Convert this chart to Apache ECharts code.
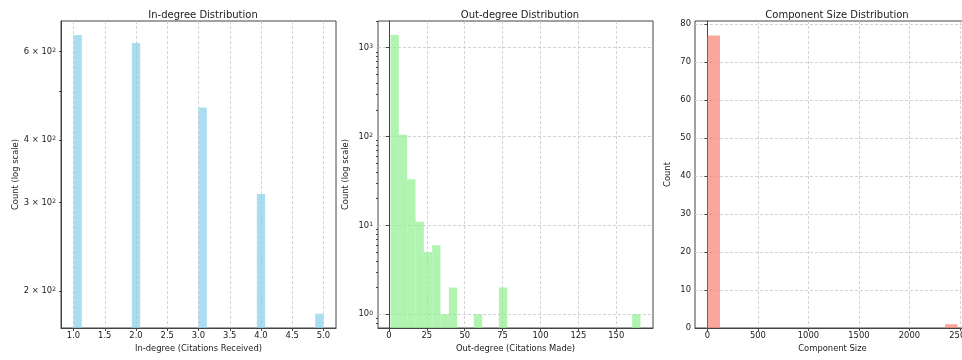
<!DOCTYPE html>
<html>
<head>
<meta charset="utf-8">
<script src="https://cdn.jsdelivr.net/npm/echarts@6/dist/echarts.min.js"></script>
<style>
  html, body { margin: 0; padding: 0; background: #fff; }
  #chart { width: 962px; height: 360px; }
</style>
</head>
<body>
<div id="chart"></div>
<script>
// In-degree histogram (30 bins over 1..5), only the non-empty bins
const inDegreeBinStart = [1.0, 1.933, 3.0, 3.933, 4.867]
const inDegreeBinEnd = [1.133, 2.067, 3.133, 4.067, 5.0]
const inDegreeCounts = [647, 624, 464, 312, 180]
const inDegreeTicks = [1.0, 1.5, 2.0, 2.5, 3.0, 3.5, 4.0, 4.5, 5.0]
const inDegreeCountTicks = [200, 300, 400, 500, 600]
const inDegreeCountLabels = [200, 300, 400, 600]

// Out-degree histogram (30 bins over 1..166), only the non-empty bins
const outDegreeBinStart = [1, 6.5, 12, 17.5, 23, 28.5, 34, 39.5, 56, 72.5, 160.5]
const outDegreeBinEnd = [6.5, 12, 17.5, 23, 28.5, 34, 39.5, 45, 61.5, 78, 166]
const outDegreeCounts = [1390, 105, 33, 11, 5, 6, 1, 2, 1, 2, 1]
const outDegreeTicks = [0, 25, 50, 75, 100, 125, 150]
const outDegreeCountTicks = [1, 10, 100, 1000]
const outDegreeMinorTicks = [0.8, 0.9, 2, 3, 4, 5, 6, 7, 8, 9, 20, 30, 40, 50, 60, 70, 80, 90,
  200, 300, 400, 500, 600, 700, 800, 900, 2000]

// Component size histogram (20 bins over 1..2476), only the non-empty bins
const componentBinStart = [1, 2352]
const componentBinEnd = [125, 2476]
const componentCounts = [77, 1]
const componentTicks = [0, 500, 1000, 1500, 2000, 2500]
const componentCountTicks = [0, 10, 20, 30, 40, 50, 60, 70, 80]

const font = 'DejaVu Sans'
const textColor = '#1a1a1a'
const frameColor = '#444'

const toRows = (starts, ends, counts) => starts.map((s, i) => [s, ends[i], counts[i]])

// histogram bars drawn from the axis bottom, like matplotlib on a log axis
const histBars = (yBase) => (params, api) => {
  const topLeft = api.coord([api.value(0), api.value(2)])
  const bottomRight = api.coord([api.value(1), yBase])
  return {
    type: 'rect',
    shape: {
      x: topLeft[0],
      y: topLeft[1],
      width: bottomRight[0] - topLeft[0],
      height: bottomRight[1] - topLeft[1]
    },
    style: api.style()
  }
}

const gridLine = { show: true, lineStyle: { color: '#c8c8c8', type: [3, 2], width: 0.8 } }
const labelStyle = { fontFamily: font, fontSize: 8.4, color: textColor }
const nameStyle = { fontFamily: font, fontSize: 8.4, color: textColor }
// base + superscript exponent, as in matplotlib's log labels
const supRich = {
  b: { fontFamily: font, fontSize: 8.4, color: textColor, verticalAlign: 'bottom' },
  s: { fontFamily: font, fontSize: 6, color: textColor, verticalAlign: 'top' }
}

const panels = [
  { left: 61, title: 'In-degree Distribution' },
  { left: 378, title: 'Out-degree Distribution' },
  { left: 695, title: 'Component Size Distribution' }
]

const inMin = 168.6, inMax = 690
const outMin = 0.7, outMax = 2000
const compMin = 0, compMax = 80.85

const chart = echarts.init(document.getElementById('chart'), null, { renderer: 'canvas' })

chart.setOption({
  animation: false,
  backgroundColor: '#fff',
  title: panels.map((p) => ({
    text: p.title,
    left: p.left + 137,
    top: 5,
    textAlign: 'center',
    textStyle: { fontFamily: font, fontSize: 10, fontWeight: 'normal', color: textColor }
  })),
  grid: panels.map((p) => ({
    left: p.left,
    top: 21,
    width: 275,
    height: 307,
    show: true,
    borderColor: frameColor,
    borderWidth: 1,
    backgroundColor: 'transparent',
    outerBoundsMode: 'none'
  })),
  xAxis: [
    {
      gridIndex: 0, type: 'value', min: 0.8, max: 5.2,
      name: 'In-degree (Citations Received)', nameLocation: 'middle', nameGap: 15,
      nameTextStyle: nameStyle,
      axisLine: { show: true, lineStyle: { color: frameColor } },
      axisTick: { show: true, length: 3, customValues: inDegreeTicks, lineStyle: { color: frameColor } },
      axisLabel: { ...labelStyle, margin: 4, customValues: inDegreeTicks, formatter: (v) => v.toFixed(1) },
      splitLine: gridLine
    },
    {
      gridIndex: 1, type: 'value', min: -7.25, max: 174.25,
      name: 'Out-degree (Citations Made)', nameLocation: 'middle', nameGap: 15,
      nameTextStyle: nameStyle,
      axisLine: { show: true, lineStyle: { color: frameColor } },
      axisTick: { show: true, length: 3, customValues: outDegreeTicks, lineStyle: { color: frameColor } },
      axisLabel: { ...labelStyle, margin: 4, customValues: outDegreeTicks, formatter: (v) => String(v) },
      splitLine: gridLine
    },
    {
      gridIndex: 2, type: 'value', min: -122.75, max: 2599.75,
      name: 'Component Size', nameLocation: 'middle', nameGap: 15,
      nameTextStyle: nameStyle,
      axisLine: { show: true, lineStyle: { color: frameColor } },
      axisTick: { show: true, length: 3, customValues: componentTicks, lineStyle: { color: frameColor } },
      axisLabel: { ...labelStyle, margin: 4, customValues: componentTicks, formatter: (v) => String(v) },
      splitLine: gridLine
    }
  ],
  yAxis: [
    {
      gridIndex: 0, type: 'log', logBase: 10, min: inMin, max: inMax, position: 'left',
      name: 'Count (log scale)', nameLocation: 'middle', nameGap: 41,
      nameTextStyle: nameStyle,
      axisLine: { show: true, lineStyle: { color: frameColor } },
      axisTick: { show: true, length: 2, customValues: inDegreeCountTicks, lineStyle: { color: frameColor } },
      axisLabel: {
        ...labelStyle, margin: 5, customValues: inDegreeCountLabels, rich: supRich,
        formatter: (v) => '{b|' + Math.round(v / 100) + ' × 10}{s|2}'
      },
      splitLine: { show: false }
    },
    {
      gridIndex: 1, type: 'log', logBase: 10, min: outMin, max: outMax, position: 'left',
      name: 'Count (log scale)', nameLocation: 'middle', nameGap: 28,
      nameTextStyle: nameStyle,
      axisLine: { show: true, lineStyle: { color: frameColor } },
      axisTick: { show: true, length: 3, customValues: outDegreeCountTicks, lineStyle: { color: frameColor } },
      axisLabel: {
        ...labelStyle, margin: 5, customValues: outDegreeCountTicks, rich: supRich,
        formatter: (v) => '{b|10}{s|' + Math.round(Math.log10(v)) + '}'
      },
      splitLine: gridLine
    },
    {
      // minor ticks only for the out-degree log axis
      gridIndex: 1, type: 'log', logBase: 10, min: outMin, max: outMax, position: 'left', offset: 0,
      axisLine: { show: false },
      axisTick: { show: true, length: 2, customValues: outDegreeMinorTicks, lineStyle: { color: frameColor } },
      axisLabel: { show: false },
      splitLine: { show: false }
    },
    {
      gridIndex: 2, type: 'value', min: compMin, max: compMax, position: 'left',
      name: 'Count', nameLocation: 'middle', nameGap: 23,
      nameTextStyle: nameStyle,
      axisLine: { show: true, lineStyle: { color: frameColor } },
      axisTick: { show: true, length: 3, customValues: componentCountTicks, lineStyle: { color: frameColor } },
      axisLabel: { ...labelStyle, margin: 4, customValues: componentCountTicks },
      splitLine: gridLine
    }
  ],
  series: [
    {
      type: 'custom', xAxisIndex: 0, yAxisIndex: 0, clip: true,
      renderItem: histBars(inMin),
      itemStyle: { color: '#87CEEB', opacity: 0.7 },
      encode: { x: [0, 1], y: 2 },
      data: toRows(inDegreeBinStart, inDegreeBinEnd, inDegreeCounts)
    },
    {
      type: 'custom', xAxisIndex: 1, yAxisIndex: 1, clip: true,
      renderItem: histBars(outMin),
      itemStyle: { color: '#90EE90', opacity: 0.7 },
      encode: { x: [0, 1], y: 2 },
      data: toRows(outDegreeBinStart, outDegreeBinEnd, outDegreeCounts)
    },
    {
      type: 'custom', xAxisIndex: 2, yAxisIndex: 3, clip: true,
      renderItem: histBars(compMin),
      itemStyle: { color: '#FA8072', opacity: 0.7 },
      encode: { x: [0, 1], y: 2 },
      data: toRows(componentBinStart, componentBinEnd, componentCounts)
    }
  ]
})
</script>
</body>
</html>
